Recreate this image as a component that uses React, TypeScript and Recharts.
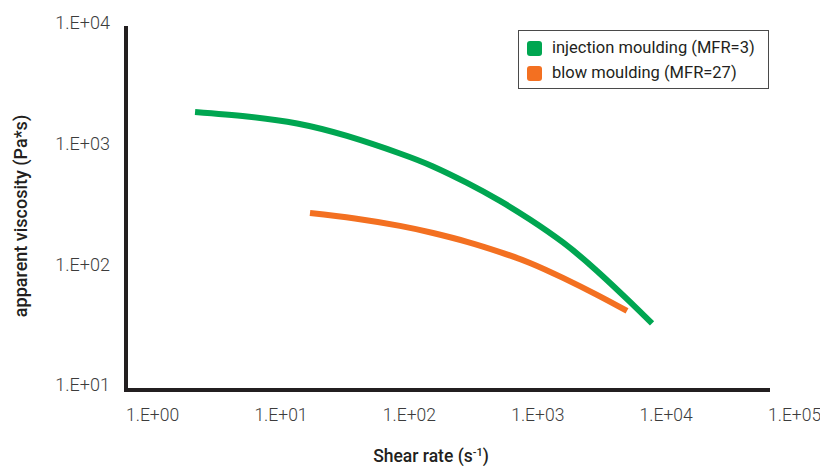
import React from 'react';
import { LineChart, Line, XAxis, YAxis, Legend, Label } from 'recharts';

const injectionShearRate = [3.45, 8.76, 21.5, 52.6, 136, 246, 453, 818, 1400, 2531, 4658, 8420, 12500];
const injectionViscosity = [2014, 1849, 1617, 1274, 912, 712, 520, 369, 259, 167, 97, 53.7, 35.6];
const blowShearRate = [27.1, 60.7, 136, 246, 453, 818, 1400, 2531, 4658, 7980];
const blowViscosity = [293, 264, 229, 200, 169, 139, 113, 84.9, 61.4, 45.2];

const xTicks = [1, 10, 100, 1000, 10000, 100000];
const yTicks = [10, 100, 1000, 10000];

const seriesNames = ['injection moulding (MFR=3)', 'blow moulding (MFR=27)'];
const seriesColors = ['#00a651', '#f37021'];

const injectionData = injectionShearRate.map((x, i) => ({ x, y: injectionViscosity[i] }));
const blowData = blowShearRate.map((x, i) => ({ x, y: blowViscosity[i] }));

const fmt = (v: number) => {
  const e = Math.round(Math.log10(v));
  return `1.E+${String(e).padStart(2, '0')}`;
};

const FONT = 'Roboto, "Open Sans", sans-serif';

const XTick = (props: any) => {
  const { x, y, payload } = props;
  return (
    <text x={x} y={y + 25} dy="0.35em" textAnchor="start" fill="#3c3c3c" fontSize={17.5} fontWeight={300} fontFamily={FONT}>
      {fmt(payload.value)}
    </text>
  );
};

const YTick = (props: any) => {
  const { x, y, payload } = props;
  return (
    <text x={x} y={y - 5} dy="0.35em" textAnchor="end" fill="#3c3c3c" fontSize={18} fontWeight={300} fontFamily={FONT}>
      {fmt(payload.value)}
    </text>
  );
};

const LegendBox = () => (
  <div
    style={{
      width: 251,
      height: 59,
      boxSizing: 'border-box',
      border: '1px solid #4a4a4a',
      background: '#fff',
      position: 'relative',
      fontFamily: FONT,
      fontSize: 16.5,
      color: '#231f20',
    }}
  >
    {seriesNames.map((name, i) => (
      <div key={name} style={{ position: 'absolute', left: 8, top: 9 + i * 25, display: 'flex', alignItems: 'center', height: 16 }}>
        <span style={{ display: 'inline-block', width: 15, height: 15, borderRadius: 3, background: seriesColors[i] }} />
        <span style={{ marginLeft: 10, whiteSpace: 'nowrap', lineHeight: '16px' }}>{name}</span>
      </div>
    ))}
  </div>
);

const XTitle = (props: any) => {
  const vb = props.viewBox;
  return (
    <text x={vb.x + 305} y={vb.y + 72} textAnchor="middle" fill="#231f20" fontSize={17.5} fontWeight={500} fontFamily={FONT}>
      Shear rate (s
      <tspan fontSize={11} dy={-6}>-1</tspan>
      <tspan dy={6}>)</tspan>
    </text>
  );
};

const YTitle = (props: any) => {
  const vb = props.viewBox;
  const cx = 12;
  const cy = vb.y + vb.height / 2 + 7;
  return (
    <text x={cx} y={cy} transform={`rotate(-90 ${cx} ${cy})`} textAnchor="middle" dominantBaseline="central" fill="#231f20" fontSize={18} fontWeight={500} fontFamily={FONT}>
      apparent viscosity (Pa*s)
    </text>
  );
};

export default function App() {
  return (
    <div style={{ width: 820, height: 458, fontFamily: FONT }}>
      <style>{'html,body{overflow:hidden}'}</style>
      <LineChart width={820} height={458} margin={{ top: 20, right: 60, bottom: 8, left: 0 }}>
        <XAxis
          type="number"
          dataKey="x"
          scale="log"
          domain={[1, 100000]}
          ticks={xTicks}
          allowDataOverflow
          height={68}
          tickSize={0}
          tickMargin={0}
          tickLine={false}
          tick={<XTick />}
          axisLine={{ stroke: '#231f20', strokeWidth: 4, strokeLinecap: 'square' }}
          interval={0}
        >
          <Label content={<XTitle />} />
        </XAxis>
        <YAxis
          type="number"
          dataKey="y"
          scale="log"
          domain={[10, 10000]}
          ticks={yTicks}
          allowDataOverflow
          width={118}
          tickSize={0}
          tickMargin={16}
          tickLine={false}
          tick={<YTick />}
          axisLine={{ stroke: '#231f20', strokeWidth: 4, strokeLinecap: 'square' }}
          interval={0}
        >
          <Label content={<YTitle />} />
        </YAxis>
        <Legend
          layout="vertical"
          align="center"
          verticalAlign="middle"
          content={<LegendBox />}
          wrapperStyle={{ position: 'absolute', left: 510, top: 22, width: 251, height: 59 }}
        />
        <Line
          data={injectionData}
          dataKey="y"
          name={seriesNames[0]}
          type="natural"
          stroke={seriesColors[0]}
          strokeWidth={6}
          dot={false}
          activeDot={false}
          isAnimationActive={false}
        />
        <Line
          data={blowData}
          dataKey="y"
          name={seriesNames[1]}
          type="natural"
          stroke={seriesColors[1]}
          strokeWidth={6}
          dot={false}
          activeDot={false}
          isAnimationActive={false}
        />
      </LineChart>
    </div>
  );
}
